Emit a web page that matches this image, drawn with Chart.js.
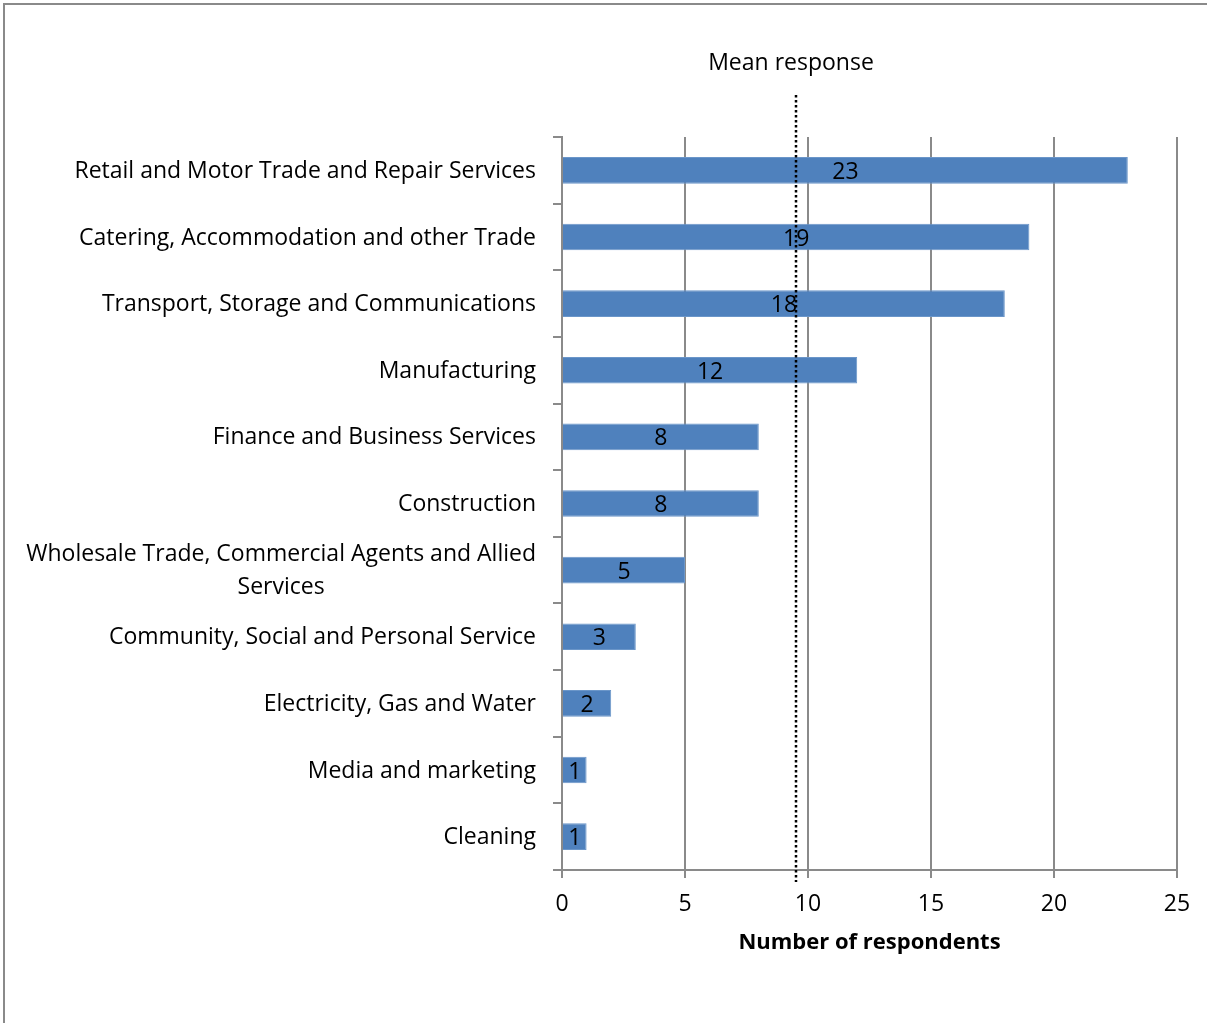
<!DOCTYPE html>
<html lang="en">
<head>
    <meta charset="UTF-8">
    <title>Respondents by sector</title>
    <style>
        html, body { margin: 0; padding: 0; overflow: hidden; background: #fff; }
        #frame { position: absolute; left: 3px; top: 3px; width: 1400px; height: 1200px; border: 2px solid #8a8a8a; }
        #wrap { position: absolute; left: 0; top: 0; width: 1207px; height: 1023px; }
    </style>
    <script src="https://cdn.jsdelivr.net/npm/chart.js"></script>
</head>
<body>
<div id="frame"></div>
<div id="wrap"><canvas id="sectorChart"></canvas></div>
<script>
    // sectors, top to bottom
    const sectors = [
        ['Retail and Motor Trade and Repair Services'],
        ['Catering, Accommodation and other Trade'],
        ['Transport, Storage and Communications'],
        ['Manufacturing'],
        ['Finance and Business Services'],
        ['Construction'],
        ['Wholesale Trade, Commercial Agents and Allied', 'Services'],
        ['Community, Social and Personal Service'],
        ['Electricity, Gas and Water'],
        ['Media and marketing'],
        ['Cleaning']
    ];
    const respondents = [23, 19, 18, 12, 8, 8, 5, 3, 2, 1, 1];
    const meanResponse = 9.5;
    const xTicks = [0, 5, 10, 15, 20, 25];

    const FONT = '"Open Sans", Lato, sans-serif';
    const SIZE = 23;
    const gridGray = '#8a8a8a';

    // category names, value labels and the dotted mean line
    const extras = {
        id: 'extras',
        afterDatasetsDraw(chart) {
            const ctx = chart.ctx;
            const x = chart.scales.x, y = chart.scales.y;
            ctx.save();
            ctx.fillStyle = '#000';
            ctx.font = SIZE + 'px ' + FONT;
            ctx.textBaseline = 'middle';

            // values in the middle of each bar
            ctx.textAlign = 'center';
            chart.getDatasetMeta(0).data.forEach((bar, i) => {
                ctx.fillText(String(respondents[i]), (bar.base + bar.x) / 2, bar.y + 2);
            });

            // category labels left of the axis
            const right = y.right - 26;
            sectors.forEach((lines, i) => {
                const cy = y.getPixelForValue(i) + 1;
                const lh = 33;
                const w = Math.max(...lines.map(l => ctx.measureText(l).width));
                lines.forEach((l, k) => {
                    const ly = cy + (k - (lines.length - 1) / 2) * lh;
                    if (lines.length === 1) {
                        ctx.textAlign = 'right';
                        ctx.fillText(l, right, ly);
                    } else {
                        ctx.textAlign = 'center';
                        ctx.fillText(l, right - w / 2, ly);
                    }
                });
            });

            // mean line
            const mx = Math.round(x.getPixelForValue(meanResponse));
            ctx.strokeStyle = '#000';
            ctx.lineWidth = 2.5;
            ctx.setLineDash([2.5, 2.5]);
            ctx.beginPath();
            ctx.moveTo(mx, 95);
            ctx.lineTo(mx, chart.chartArea.bottom + 12);
            ctx.stroke();
            ctx.setLineDash([]);
            ctx.textAlign = 'center';
            ctx.fillText('Mean response', mx - 5, 63);
            ctx.restore();
        }
    };

    new Chart(document.getElementById('sectorChart'), {
        type: 'bar',
        data: {
            labels: sectors,
            datasets: [{
                data: respondents,
                backgroundColor: '#4f81bd',
                borderColor: '#6b96c9',
                borderWidth: 1,
                categoryPercentage: 1,
                barPercentage: 0.4
            }]
        },
        options: {
            indexAxis: 'y',
            responsive: true,
            maintainAspectRatio: false,
            animation: false,
            layout: { padding: { top: 137, right: 30, left: 0, bottom: 67 } },
            plugins: { legend: { display: false }, tooltip: { enabled: false } },
            scales: {
                x: {
                    min: 0, max: 25,
                    afterBuildTicks: s => { s.ticks = xTicks.map(v => ({ value: v })); },
                    afterFit: s => { s.height = 86; },
                    grid: { color: gridGray, lineWidth: 2, tickLength: 8 },
                    border: { color: gridGray, width: 2 },
                    ticks: { color: '#000', font: { family: FONT, size: SIZE }, padding: 13 },
                    title: {
                        display: true, text: 'Number of respondents', color: '#000',
                        font: { family: FONT, size: 22, weight: 'bold' }, padding: 0
                    }
                },
                y: {
                    afterFit: s => { s.width = 562; },
                    grid: { drawOnChartArea: false, offset: true, color: gridGray, lineWidth: 2, tickLength: 9 },
                    border: { color: gridGray, width: 2 },
                    ticks: { display: false }
                }
            }
        },
        plugins: [extras]
    });
</script>
</body>
</html>
